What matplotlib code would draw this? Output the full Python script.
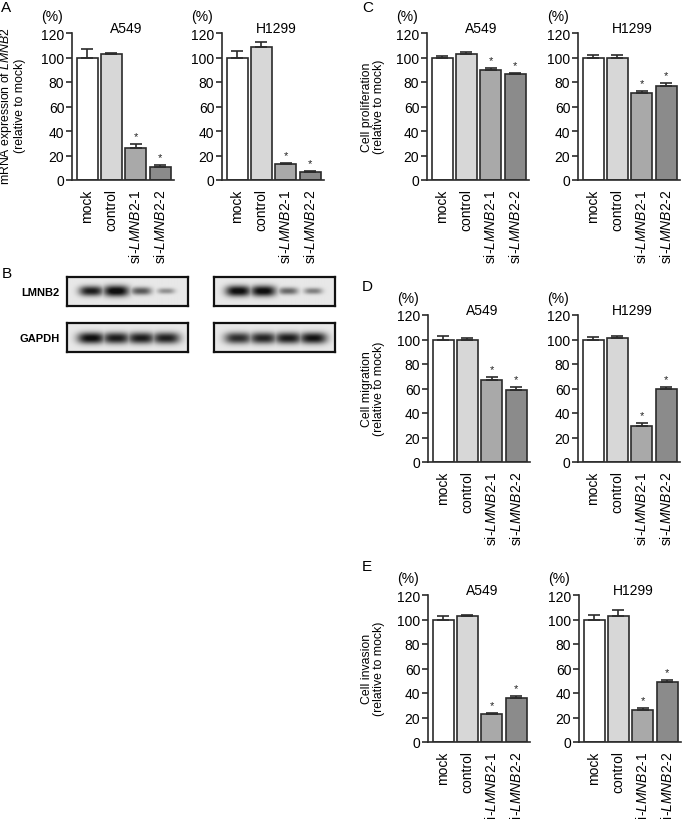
import numpy as np
import matplotlib
matplotlib.use("Agg")
import matplotlib.pyplot as plt

plt.rcParams['font.family'] = ['Liberation Sans', 'DejaVu Sans']
plt.rcParams['mathtext.fontset'] = 'custom'
plt.rcParams['mathtext.rm'] = 'Liberation Sans'
plt.rcParams['mathtext.it'] = 'Liberation Sans:italic'
plt.rcParams['mathtext.bf'] = 'Liberation Sans:bold'

# ---------------- data ----------------
categories = ["mock", "control", r"si-$\it{LMNB2}$-1", r"si-$\it{LMNB2}$-2"]
significant = [False, False, True, True]

mrna_a549 = [100, 103, 26, 11]
mrna_a549_err = [7, 0.8, 3.2, 1.0]
mrna_h1299 = [100, 108.5, 13, 6.5]
mrna_h1299_err = [5.5, 4.0, 0.8, 0.8]

prolif_a549 = [100, 103, 90, 86.5]
prolif_a549_err = [1.0, 1.2, 1.2, 1.0]
prolif_h1299 = [100, 100, 71, 77]
prolif_h1299_err = [2.0, 2.0, 1.8, 2.2]

migr_a549 = [100, 99.5, 67, 58.5]
migr_a549_err = [2.8, 2.0, 2.5, 3.0]
migr_h1299 = [100, 101, 29.5, 59.5]
migr_h1299_err = [2.0, 2.0, 2.0, 2.0]

inv_a549 = [100, 102.5, 22.5, 36]
inv_a549_err = [2.5, 1.5, 1.0, 1.5]
inv_h1299 = [100, 103, 26.5, 49]
inv_h1299_err = [4.0, 5.0, 1.5, 1.5]

# western blot band intensities (relative darkness per lane)
blot_lmnb2_a549 = [0.88, 1.0, 0.62, 0.38]
blot_lmnb2_h1299 = [0.97, 0.97, 0.55, 0.45]
blot_gapdh_a549 = [0.95, 0.88, 0.88, 0.86]
blot_gapdh_h1299 = [0.8, 0.84, 0.88, 0.92]

# ---------------- style ----------------
bar_colors = ['white', '#d7d7d7', '#a9a9a9', '#8b8b8b']
EDGE = '#2b2b2b'
W, H = 685, 820
PX = 72 / 100.0  # points per pixel
FS = 10

fig = plt.figure(figsize=(6.85, 8.2), dpi=100)


def add_ax(left, top, width, height):
    return fig.add_axes([left / W, 1 - (top + height) / H, width / W, height / H])


def bar_panel(left, top, values, errors, title):
    ax = add_ax(left, top, 102, 147)
    x = np.arange(len(categories))
    ax.bar(x, values, width=0.86, color=bar_colors, edgecolor=EDGE,
           linewidth=1.2, zorder=2)
    ax.errorbar(x, values, yerr=[np.zeros(len(values)), errors], fmt='none',
                ecolor=EDGE, elinewidth=1.2, capsize=4.2, capthick=1.2,
                zorder=3, clip_on=False)
    for xi, v, e, s in zip(x, values, errors, significant):
        if s:
            ax.text(xi, v + e + 2.5, '*', ha='center', va='bottom', fontsize=8,
                    color='#222222')
    ax.set_xlim(-0.62, 3.57)
    ax.set_ylim(0, 120)
    ax.set_yticks(np.arange(0, 121, 20))
    ax.set_xticks(x)
    ax.set_xticklabels(categories, rotation=90, ha='center', va='top')
    for sp in ['top', 'right']:
        ax.spines[sp].set_visible(False)
    for sp in ['left', 'bottom']:
        ax.spines[sp].set_linewidth(1.2)
        ax.spines[sp].set_color(EDGE)
    ax.tick_params(axis='y', direction='out', length=4, width=1.2,
                   labelsize=FS, pad=1.5, color=EDGE)
    ax.tick_params(axis='x', length=0, labelsize=FS, pad=6)
    ax.annotate('(%)', xy=(0, 1), xycoords='axes fraction',
                xytext=(-20 * PX, 17 * PX), textcoords='offset points',
                ha='center', va='center', fontsize=FS)
    ax.annotate(title, xy=(1.6, 120), xycoords='data',
                xytext=(0, 5 * PX), textcoords='offset points',
                ha='center', va='center', fontsize=FS)
    return ax


YL = 8.8
# Panel A
bar_panel(72, 34, mrna_a549, mrna_a549_err, 'A549')
bar_panel(222, 34, mrna_h1299, mrna_h1299_err, 'H1299')
fig.text(12 / W, 1 - 106 / H,
         "mRNA expression of $\\it{LMNB2}$\n(relative to mock)",
         rotation=90, ha='center', va='center', fontsize=YL, linespacing=1.1)

# Panel C
bar_panel(427, 34, prolif_a549, prolif_a549_err, 'A549')
bar_panel(578, 34, prolif_h1299, prolif_h1299_err, 'H1299')
fig.text(373 / W, 1 - 107 / H, "Cell proliferation\n(relative to mock)",
         rotation=90, ha='center', va='center', fontsize=YL, linespacing=1.1)

# Panel D
bar_panel(428, 316, migr_a549, migr_a549_err, 'A549')
bar_panel(578, 316, migr_h1299, migr_h1299_err, 'H1299')
fig.text(373 / W, 1 - 389 / H, "Cell migration\n(relative to mock)",
         rotation=90, ha='center', va='center', fontsize=YL, linespacing=1.1)

# Panel E
bar_panel(428, 596, inv_a549, inv_a549_err, 'A549')
bar_panel(579, 596, inv_h1299, inv_h1299_err, 'H1299')
fig.text(373 / W, 1 - 669 / H, "Cell invasion\n(relative to mock)",
         rotation=90, ha='center', va='center', fontsize=YL, linespacing=1.1)


# Panel B - western blot drawn from band intensities
def blot(left, top, width, height, intensities, kind):
    ax = add_ax(left, top, width, height)
    nx, ny = 240, 60
    xs = np.linspace(0, 1, nx)
    ys = np.linspace(0, 1, ny)
    X, Y = np.meshgrid(xs, ys)
    dark = np.zeros_like(X)
    for i, I in enumerate(intensities):
        c = 0.2 + 0.207 * i
        if kind == 'lmnb2':
            hw = 0.05 + 0.058 * I
            sy = 0.04 + 0.15 * I
            yc = 0.5
        else:
            hw = 0.115
            sy = 0.2
            yc = 0.52
        prof = np.exp(-np.abs((X - c) / hw) ** 3) * np.exp(-np.abs((Y - yc) / sy) ** 2.2)
        dark = np.maximum(dark, I * prof)
    bg = 0.91
    img = bg - np.clip(dark * 1.08, 0, 1) * (bg - 0.06)
    ax.imshow(img, cmap='gray', vmin=0, vmax=1, aspect='auto',
              interpolation='bilinear', extent=(0, 1, 1, 0))
    ax.set_xticks([])
    ax.set_yticks([])
    for sp in ax.spines.values():
        sp.set_linewidth(1.6)
        sp.set_color('#111111')
    return ax


blot(67, 278, 121, 29, blot_lmnb2_a549, 'lmnb2')
blot(214, 278, 121, 29, blot_lmnb2_h1299, 'lmnb2')
blot(67, 324, 121, 29, blot_gapdh_a549, 'gapdh')
blot(214, 324, 121, 29, blot_gapdh_h1299, 'gapdh')
fig.text(40 / W, 1 - 293 / H, 'LMNB2', ha='center', va='center',
         fontsize=8, fontweight='bold')
fig.text(40 / W, 1 - 339 / H, 'GAPDH', ha='center', va='center',
         fontsize=8, fontweight='bold')

# panel letters
for letter, (lx, ly) in {'A': (1, 8), 'B': (2, 274), 'C': (362, 8),
                         'D': (362, 287), 'E': (362, 567)}.items():
    fig.text(lx / W, 1 - ly / H, letter, ha='left', va='center', fontsize=11)

fig.savefig('out.png', dpi=100)
